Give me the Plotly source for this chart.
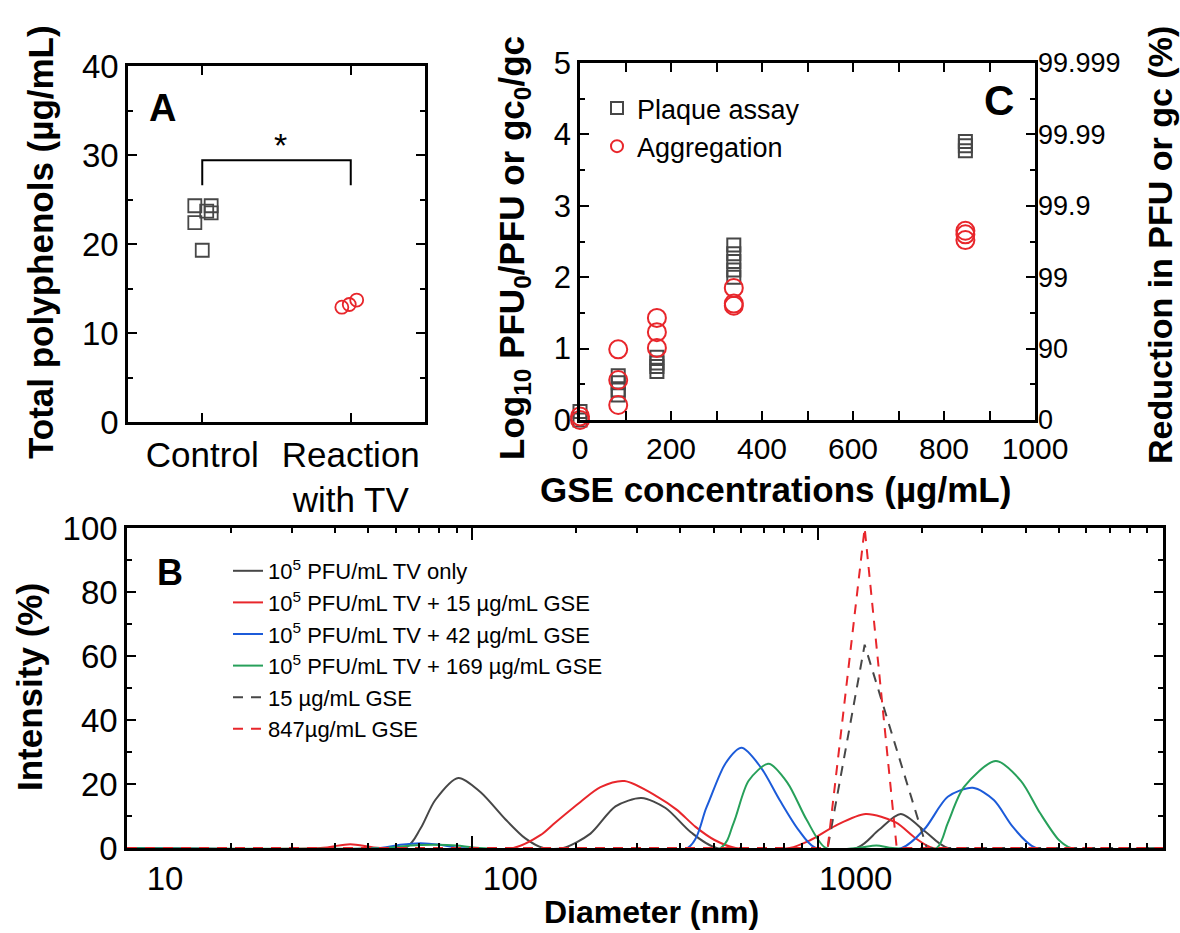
import plotly.graph_objects as go

W, H = 1180, 933
FONT = "Liberation Sans, Arial, sans-serif"
RED = '#e8262b'
GRAY = '#474747'
BLUE = '#1c5bd9'
GREEN = '#27a05a'

# ---------------- Panel A: total polyphenols ----------------
a_tick_pos = [1, 2]
a_tick_text = ['Control', 'Reaction<br>with TV']
a_control_x = [0.95, 0.95, 1.00, 1.03, 1.06, 1.06]
a_control_y = [24.3, 22.4, 19.3, 23.7, 24.3, 23.5]
a_reaction_x = [1.94, 1.99, 2.04]
a_reaction_y = [12.9, 13.2, 13.7]

# ---------------- Panel C: log reduction vs GSE ----------------
c_plaque_x = [0, 0, 0, 84, 84, 84, 84, 169, 169, 169, 169, 338, 338, 338, 338, 338, 847, 847, 847]
c_plaque_y = [0.12, 0.0, -0.12, 0.62, 0.52, 0.42, 0.35, 0.88, 0.80, 0.75, 0.68,
              2.45, 2.33, 2.22, 2.10, 2.00, 3.90, 3.84, 3.77]
c_agg_x = [0, 0, 0, 84, 84, 84, 169, 169, 169, 338, 338, 338, 847, 847, 847]
c_agg_y = [0.05, 0.0, -0.05, 0.99, 0.56, 0.21, 1.43, 1.23, 1.01, 1.85, 1.63, 1.60, 2.65, 2.60, 2.52]
c_right_ticks = [0, 1, 2, 3, 4, 5]
c_right_labels = ['0', '90', '99', '99.9', '99.99', '99.999']

# ---------------- Panel B: DLS size distributions ----------------
tv_d = [10, 63.9, 70.7, 78.1, 91.1, 105.5, 124.6, 142.4, 160.6, 183.5, 219.8, 259.7, 309, 362.6,
        428.5, 509.6, 1297, 1502, 1740, 2056, 2381, 10000]
tv_i = [0, 0, 6, 15, 21.9, 17.5, 9, 3, 0, 0, 4.5, 13, 15.6, 12.5, 5, 0, 0, 5.6, 10.6, 5, 0, 0]

red_d = [10, 36.3, 44.3, 54.1, 131.5, 157.4, 174, 205.6, 235, 275.8, 343.8, 390.3, 443.1, 502.9,
         578.6, 829.4, 954, 1128, 1378, 1683, 1924, 2155, 10000]
red_i = [0, 0, 1.2, 0, 0, 4, 8, 14.4, 19, 20.9, 16, 12, 6.6, 2.5, 0, 0, 2.5, 7, 10.6, 8, 3, 0, 0]

blue_d = [10, 54.1, 61.8, 70.7, 80.8, 92.3, 420, 476.8, 541.2, 602.2, 683.5, 776, 880.9, 986.8,
          1752, 2042, 2381, 2813, 3237, 3675, 4285, 10000]
blue_i = [0, 0, 1, 1.5, 1, 0, 0, 12.8, 26.5, 31.3, 25.3, 15, 5.6, 0, 0, 6, 16, 18.8, 15, 6.6, 0, 0]

green_d = [10, 56, 66, 78, 90, 105, 523.5, 570.8, 631, 721, 818.5, 929.2, 1055, 1300, 1480, 1650,
           2213, 2381, 2650, 3280, 3876, 4400, 4995, 5412, 10000]
green_i = [0, 0, 0.8, 1.0, 0.8, 0, 0, 7.8, 21, 26.3, 20.3, 8.8, 0, 0, 0.8, 0,
           0, 7.8, 19, 27.2, 21, 11, 2.5, 0, 0]

gse15_d = [10, 1069, 1368, 2070, 10000]
gse15_i = [0, 0, 63.5, 0, 0]
gse847_d = [10, 1069, 1368, 1694, 10000]
gse847_i = [0, 0, 100, 0, 0]

b_names = ['10<sup>5</sup> PFU/mL TV only',
           '10<sup>5</sup> PFU/mL TV + 15 \u00b5g/mL GSE',
           '10<sup>5</sup> PFU/mL TV + 42 \u00b5g/mL GSE',
           '10<sup>5</sup> PFU/mL TV + 169 \u00b5g/mL GSE',
           '15 \u00b5g/mL GSE',
           '847\u00b5g/mL GSE']
b_major = [10, 100, 1000]
b_major_text = ['10', '100', '1000']


def px(x):
    return x / W


def py(y):
    return 1 - y / H


fig = go.Figure()

# Panel A traces
fig.add_trace(go.Scatter(x=a_control_x, y=a_control_y, mode='markers', xaxis='x', yaxis='y',
                         marker=dict(symbol='square-open', size=13, color=GRAY, line=dict(width=1.8)),
                         showlegend=False, cliponaxis=False))
fig.add_trace(go.Scatter(x=a_reaction_x, y=a_reaction_y, mode='markers', xaxis='x', yaxis='y',
                         marker=dict(symbol='circle-open', size=13, color=RED, line=dict(width=1.8)),
                         showlegend=False, cliponaxis=False))

# Panel C traces
fig.add_trace(go.Scatter(x=c_plaque_x, y=c_plaque_y, mode='markers', xaxis='x2', yaxis='y2',
                         name='Plaque assay', legend='legend2',
                         marker=dict(symbol='square-open', size=13, color=GRAY, line=dict(width=2)),
                         cliponaxis=False))
fig.add_trace(go.Scatter(x=c_agg_x, y=c_agg_y, mode='markers', xaxis='x2', yaxis='y2',
                         name='Aggregation', legend='legend2',
                         marker=dict(symbol='circle-open', size=18, color=RED, line=dict(width=2)),
                         cliponaxis=False))
# empty trace so that the right-hand (percentage) axis of panel C is drawn
fig.add_trace(go.Scatter(x=[None], y=[None], mode='markers', xaxis='x2', yaxis='y3',
                         showlegend=False, hoverinfo='skip'))

# Panel B traces
b_series = [(tv_d, tv_i, GRAY, 'solid', 'spline'),
            (red_d, red_i, RED, 'solid', 'spline'),
            (blue_d, blue_i, BLUE, 'solid', 'spline'),
            (green_d, green_i, GREEN, 'solid', 'spline'),
            (gse15_d, gse15_i, GRAY, '10px,8px', 'linear'),
            (gse847_d, gse847_i, RED, '10px,8px', 'linear')]
for (d, i, col, dash, shape), name in zip(b_series, b_names):
    fig.add_trace(go.Scatter(x=d, y=i, mode='lines', xaxis='x3', yaxis='y4', name=name,
                             legend='legend',
                             line=dict(color=col, width=2, dash=dash, shape=shape, smoothing=0.8)))

axis_common = dict(showline=True, linecolor='black', linewidth=2.5, mirror='allticks',
                   ticks='inside', ticklen=9, tickwidth=2, tickcolor='black',
                   showgrid=False, zeroline=False, color='black', automargin=False)
minor_common = dict(ticks='inside', ticklen=5, tickwidth=2, tickcolor='black', showgrid=False)

b_minor = [m * 10 ** e for e in (1, 2, 3) for m in range(2, 10)]

fig.update_layout(
    width=W, height=H,
    margin=dict(l=0, r=0, t=0, b=0, autoexpand=False),
    paper_bgcolor='white', plot_bgcolor='white',
    font=dict(family=FONT, color='black'),
    xaxis=dict(domain=[px(128), px(425)], range=[0.5, 2.5], anchor='y',
               tickvals=a_tick_pos, ticktext=a_tick_text, tickfont=dict(size=35),
               **axis_common),
    yaxis=dict(domain=[py(422), py(66)], range=[0, 40], anchor='x', dtick=10,
               tickfont=dict(size=33), minor=dict(dtick=5, **minor_common), **axis_common),
    xaxis2=dict(domain=[px(580), px(1035)], range=[0, 1000], anchor='y2', dtick=200,
                tickfont=dict(size=30), minor=dict(dtick=100, **minor_common), **axis_common),
    yaxis2=dict(domain=[py(420), py(63)], range=[0, 5], anchor='x2', dtick=1,
                tickfont=dict(size=31), minor=dict(dtick=0.5, **minor_common), **axis_common),
    yaxis3=dict(overlaying='y2', side='right', anchor='x2', range=[0, 5],
                tickmode='array', tickvals=c_right_ticks, ticktext=c_right_labels,
                tickfont=dict(size=27, color='black'), ticks='', showline=False, showgrid=False,
                zeroline=False, automargin=False, showticklabels=True, ticklabelstandoff=2),
    xaxis3=dict(domain=[px(127), px(1163)], type='log', range=[1, 4], anchor='y4',
                tickmode='array', tickvals=b_major, ticktext=b_major_text, tickfont=dict(size=33),
                ticklabelshift=38, ticklen=12,
                minor=dict(tickmode='array', tickvals=b_minor, **minor_common),
                **{k: v for k, v in axis_common.items() if k != 'ticklen'}),
    yaxis4=dict(domain=[py(848), py(528)], range=[0, 100], anchor='x3', dtick=20,
                tickfont=dict(size=33), minor=dict(dtick=10, **minor_common), **axis_common),
    legend=dict(x=px(228), y=py(550), xanchor='left', yanchor='top', font=dict(size=22),
                bgcolor='rgba(0,0,0,0)', tracegroupgap=0),
    legend2=dict(x=px(597), y=py(84), xanchor='left', yanchor='top', font=dict(size=27),
                 bgcolor='rgba(0,0,0,0)', itemsizing='constant'),
)

# significance bracket for panel A
fig.add_shape(type='path', path='M 1,26.6 L 1,29.4 L 2,29.4 L 2,26.6', xref='x', yref='y',
              line=dict(color='black', width=2))


def note(text, x, y, size, angle=0, bold=False):
    fig.add_annotation(text=f'<b>{text}</b>' if bold else text, x=px(x), y=py(y),
                       xref='paper', yref='paper', xanchor='center', yanchor='middle',
                       showarrow=False, textangle=angle, font=dict(size=size, family=FONT, color='black'))


note('*', 280, 145, 34)
note('A', 163, 108, 38, bold=True)
note('C', 999, 101, 42, bold=True)
note('B', 170, 572, 36, bold=True)

note('Total polyphenols (\u00b5g/mL)', 40, 242, 35, angle=-90, bold=True)
note('Log<sub>10</sub> PFU<sub>0</sub>/PFU or gc<sub>0</sub>/gc', 514, 248, 35, angle=-90, bold=True)
note('Reduction in PFU or gc (%)', 1160, 245, 34, angle=-90, bold=True)
note('GSE concentrations (\u00b5g/mL)', 775, 489, 35, bold=True)
note('Intensity (%)', 29, 687, 35, angle=-90, bold=True)
note('Diameter (nm)', 652, 912, 32, bold=True)

fig.write_html('out.html', config={'displayModeBar': False},
               post_script="document.body.style.margin='0';document.body.style.overflow='hidden';")
